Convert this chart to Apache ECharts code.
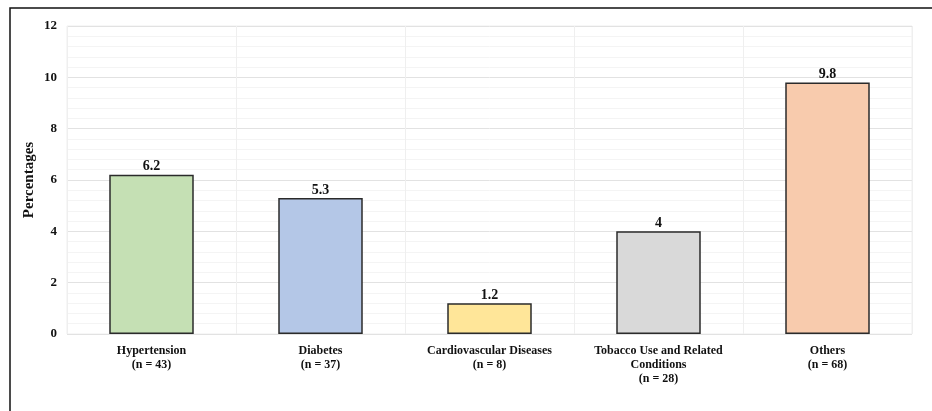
<!DOCTYPE html>
<html>
<head>
<meta charset="utf-8">
<style>
  html, body { margin: 0; padding: 0; background: #fff; }
  #chart { width: 932px; height: 411px; }
</style>
<script src="https://cdn.jsdelivr.net/npm/echarts@6/dist/echarts.min.js"></script>
</head>
<body>
<div id="chart"></div>
<script>
// Share of participants per condition group
const categories = [
  'Hypertension\n(n = 43)',
  'Diabetes\n(n = 37)',
  'Cardiovascular Diseases\n(n = 8)',
  'Tobacco Use and Related\nConditions\n(n = 28)',
  'Others\n(n = 68)'
];
const percentages = [6.2, 5.3, 1.2, 4, 9.8];
const barColors = ['#c5e0b4', '#b4c7e7', '#ffe699', '#d9d9d9', '#f8cbad'];
const yTicks = [0, 2, 4, 6, 8, 10, 12];

const serif = '"Liberation Serif", "Times New Roman", serif';

const chart = echarts.init(document.getElementById('chart'));
chart.setOption({
  animation: false,
  backgroundColor: '#ffffff',
  graphic: [{
    type: 'rect',
    shape: { x: 10, y: 8, width: 940, height: 420 },
    style: { fill: 'none', stroke: '#111', lineWidth: 1.5 },
    silent: true,
    z: 100
  }],
  grid: { left: 67, right: 20, top: 26, bottom: 77, show: true, borderColor: '#efefef', borderWidth: 1 },
  xAxis: {
    type: 'category',
    data: categories,
    axisLine: { show: false },
    axisTick: { show: false },
    splitLine: { show: true, lineStyle: { color: '#efefef', width: 1 } },
    axisLabel: {
      interval: 0,
      margin: 10,
      color: '#111',
      fontFamily: serif,
      fontWeight: 'bold',
      fontSize: 12,
      lineHeight: 14
    }
  },
  yAxis: {
    type: 'value',
    min: yTicks[0],
    max: yTicks[yTicks.length - 1],
    interval: 2,
    name: 'Percentages',
    nameLocation: 'middle',
    nameGap: 30,
    nameMoveOverlap: false,
    nameTextStyle: { color: '#111', fontFamily: serif, fontWeight: 'bold', fontSize: 15 },
    axisLine: { show: false },
    axisTick: { show: false },
    axisLabel: { color: '#111', fontFamily: serif, fontWeight: 'bold', fontSize: 13, margin: 10 },
    splitLine: { show: true, lineStyle: { color: '#e2e2e2', width: 1 } },
    minorTick: { show: false, splitNumber: 5 },
    minorSplitLine: { show: true, lineStyle: { color: '#f4f4f4', width: 1 } }
  },
  series: [{
    type: 'bar',
    barWidth: '50%',
    data: percentages.map((v, i) => ({ value: v, itemStyle: { color: barColors[i] } })),
    itemStyle: { borderColor: '#2b2b2b', borderWidth: 1.5 },
    label: {
      show: true,
      position: 'top',
      distance: 1,
      color: '#111',
      fontFamily: serif,
      fontWeight: 'bold',
      fontSize: 14
    }
  }]
});
</script>
</body>
</html>
